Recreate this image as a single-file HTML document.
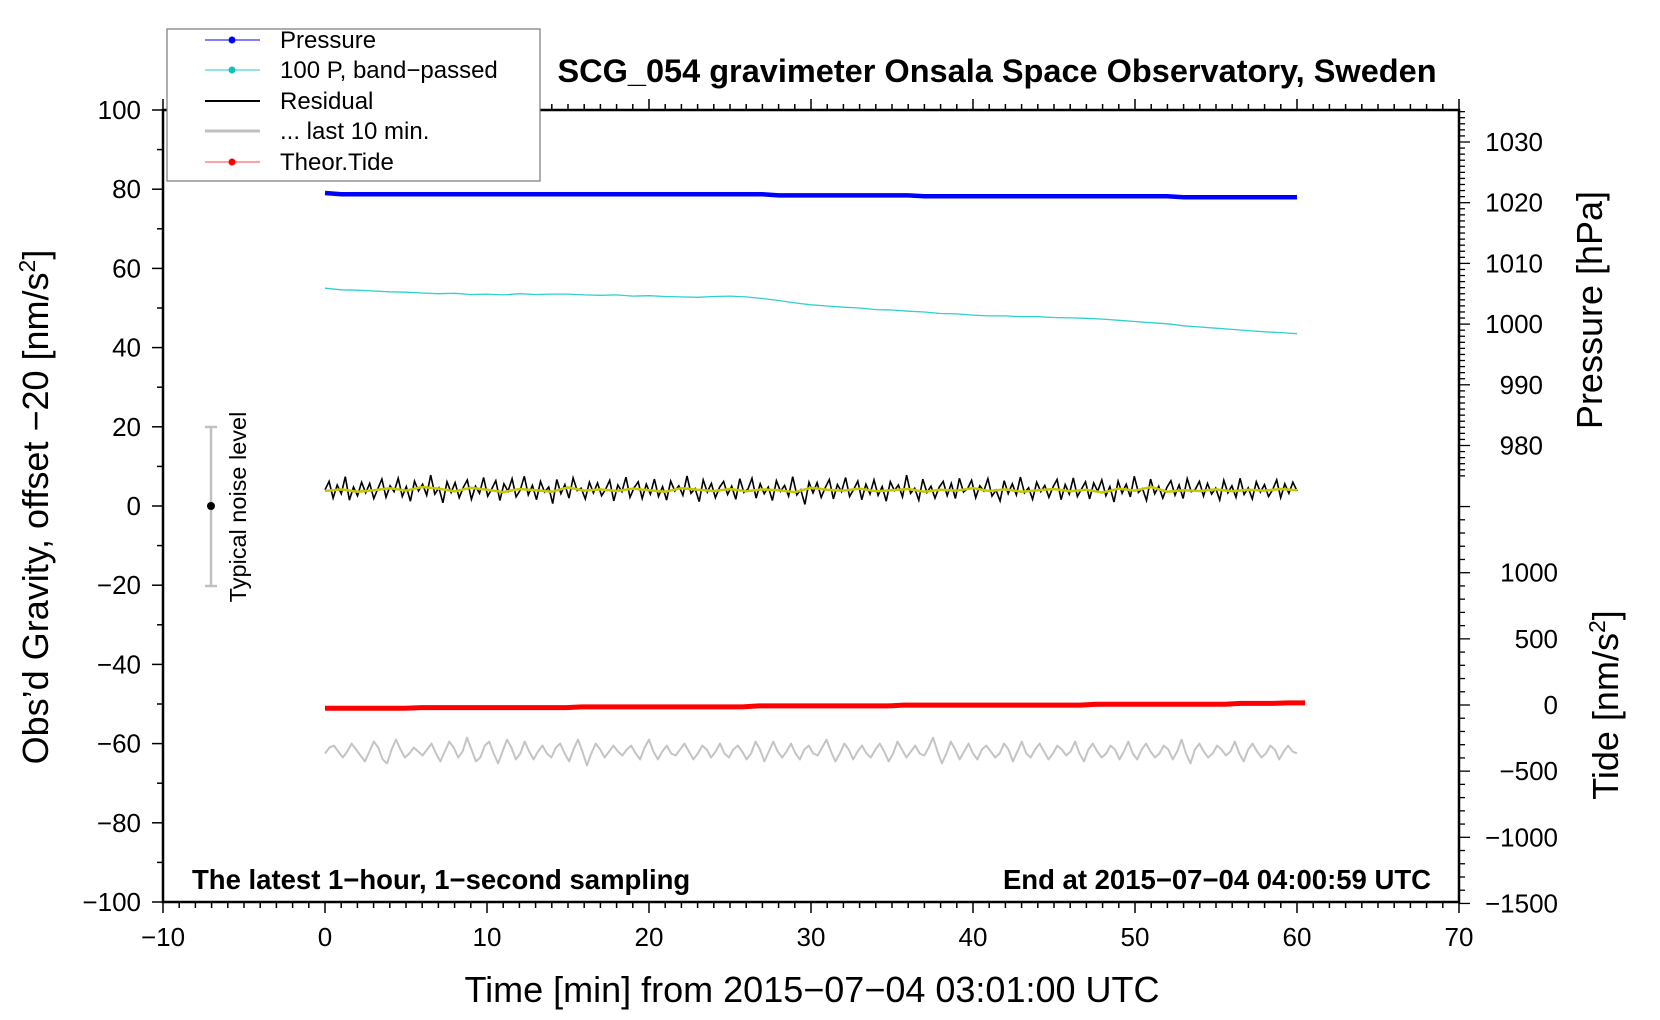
<!DOCTYPE html>
<html><head><meta charset="utf-8">
<style>
html,body{margin:0;padding:0;background:#fff;}
svg{display:block;font-family:"Liberation Sans",sans-serif;}
</style></head>
<body>
<svg id="chart" width="1660" height="1020" viewBox="0 0 1660 1020" xmlns="http://www.w3.org/2000/svg">
  <rect width="1660" height="1020" fill="#fff"/>
  <g id="series"></g>
  <g id="axes"></g>
  <text x="997" y="82" font-size="32.5" font-weight="bold" text-anchor="middle">SCG_054 gravimeter Onsala Space Observatory, Sweden</text>
  <text x="192" y="889" font-size="27.5" font-weight="bold">The latest 1−hour, 1−second sampling</text>
  <text x="1431" y="889" font-size="27.5" font-weight="bold" text-anchor="end">End at 2015−07−04 04:00:59 UTC</text>
  <text x="812" y="1002" font-size="36" text-anchor="middle">Time [min] from 2015−07−04 03:01:00 UTC</text>
  <text transform="translate(48,507) rotate(-90)" font-size="36" text-anchor="middle">Obs’d Gravity, offset −20 [nm/s<tspan dy="-13" font-size="23">2</tspan><tspan dy="13">]</tspan></text>
  <text transform="translate(1602,310) rotate(-90)" font-size="36" text-anchor="middle">Pressure [hPa]</text>
  <text transform="translate(1618,705) rotate(-90)" font-size="36" text-anchor="middle">Tide [nm/s<tspan dy="-13" font-size="23">2</tspan><tspan dy="13">]</tspan></text>
  <g>
    <line x1="211" y1="427" x2="211" y2="586" stroke="#c0c0c0" stroke-width="2.5"/>
    <line x1="205" y1="427" x2="217" y2="427" stroke="#c0c0c0" stroke-width="2.5"/>
    <line x1="205" y1="586" x2="217" y2="586" stroke="#c0c0c0" stroke-width="2.5"/>
    <circle cx="211" cy="506" r="4" fill="#000"/>
    <text transform="translate(246,507) rotate(-90)" font-size="23.5" text-anchor="middle">Typical noise level</text>
  </g>
  <g>
    <rect x="167" y="29" width="373" height="152" fill="#fff" stroke="#777" stroke-width="1.2"/>
    <g><line x1="205" y1="40" x2="260" y2="40" stroke="#00f" stroke-width="1"/><circle cx="232" cy="40" r="3.5" fill="#00f"/><text x="280" y="48" font-size="24">Pressure</text></g>
    <g><line x1="205" y1="70" x2="260" y2="70" stroke="#20c8c8" stroke-width="1"/><circle cx="232" cy="70" r="3.5" fill="#10c0c0"/><text x="280" y="78" font-size="24">100 P, band−passed</text></g>
    <g><line x1="205" y1="101" x2="260" y2="101" stroke="#000" stroke-width="2"/><text x="280" y="109" font-size="24">Residual</text></g>
    <g><line x1="205" y1="131" x2="260" y2="131" stroke="#c0c0c0" stroke-width="3"/><text x="280" y="139" font-size="24">... last 10 min.</text></g>
    <g><line x1="205" y1="162" x2="260" y2="162" stroke="#f44" stroke-width="1"/><circle cx="232" cy="162" r="3.5" fill="#f00"/><text x="280" y="170" font-size="24">Theor.Tide</text></g>
  </g>
</svg>
<script>
const pressure = [1021.6,1021.4,1021.4,1021.4,1021.4,1021.4,1021.4,1021.4,1021.4,1021.4,1021.4,1021.4,1021.4,1021.4,1021.4,1021.4,1021.4,1021.4,1021.4,1021.4,1021.4,1021.4,1021.4,1021.4,1021.4,1021.4,1021.4,1021.4,1021.2,1021.2,1021.2,1021.2,1021.2,1021.2,1021.2,1021.2,1021.2,1021.05,1021.05,1021.05,1021.05,1021.05,1021.05,1021.05,1021.05,1021.05,1021.05,1021.05,1021.05,1021.05,1021.05,1021.05,1021.05,1020.9,1020.9,1020.9,1020.9,1020.9,1020.9,1020.9,1020.9];
const bandPassed = [55.0,54.6,54.5,54.3,54.1,54.0,53.8,53.6,53.7,53.4,53.5,53.3,53.6,53.4,53.5,53.5,53.3,53.2,53.3,53.0,53.1,52.9,52.8,52.7,52.9,53.0,52.8,52.4,51.9,51.3,50.8,50.5,50.2,50.0,49.6,49.5,49.2,49.0,48.6,48.5,48.2,48.0,48.0,47.8,47.8,47.6,47.5,47.4,47.2,46.9,46.6,46.3,46.0,45.5,45.2,44.9,44.6,44.3,44.0,43.8,43.5];
const residual = [4.1,6.2,2.0,5.3,3.1,7.4,1.5,4.8,2.6,6.0,3.3,5.7,1.9,4.4,6.8,2.2,5.1,3.6,7.0,2.4,
4.9,1.2,6.3,3.8,5.5,2.7,7.8,3.0,4.6,0.8,6.1,3.4,5.9,2.1,4.7,6.6,1.7,5.0,3.2,7.2,
2.5,4.3,6.4,1.4,5.6,3.7,6.9,2.3,4.0,7.5,2.8,5.2,1.6,6.2,3.5,4.8,0.6,6.7,3.1,5.4,
2.0,7.1,3.9,4.5,1.8,6.0,3.3,5.8,2.6,4.2,6.5,1.3,5.3,3.6,7.3,2.2,4.6,6.1,1.9,5.5,
3.0,6.8,2.4,4.9,1.5,6.3,3.8,5.1,2.7,7.6,3.2,4.4,1.1,6.6,3.5,5.7,2.1,4.7,6.2,2.9,
5.0,1.7,6.9,3.4,4.3,7.0,2.0,5.6,3.1,4.8,1.4,6.4,3.7,5.2,2.5,7.4,2.8,4.1,0.4,6.0,
3.3,5.9,2.2,4.6,6.7,1.8,5.4,3.6,7.2,2.4,4.2,6.3,1.6,5.5,3.0,6.6,2.7,4.9,1.2,6.1,
3.9,5.3,2.3,7.8,3.2,4.5,1.5,6.8,3.4,5.0,2.0,4.7,6.2,2.6,5.7,1.9,7.0,3.5,4.4,6.5,
2.1,5.1,3.8,6.9,2.5,4.0,1.3,6.4,3.1,5.6,2.8,7.3,3.3,4.6,1.7,6.0,3.6,5.2,2.2,4.8,
6.7,1.6,5.4,3.0,7.1,2.4,4.3,6.1,1.8,5.8,3.7,6.6,2.6,4.9,1.0,6.3,3.2,5.5,2.3,7.5,
3.4,4.4,1.4,6.8,3.1,5.0,2.0,4.7,6.4,2.7,5.3,1.9,6.9,3.6,4.2,6.2,2.5,5.7,3.0,4.5,
1.5,6.5,3.3,5.1,2.2,7.0,2.9,4.6,1.8,6.1,3.5,5.4,2.4,4.1,6.6,2.1,5.6,3.2,6.0,3.8];
const residualSmooth = [3.8,4.2,3.6,4.0,4.5,3.9,4.8,4.4,3.7,4.6,4.1,3.5,4.3,4.0,3.6,4.7,3.9,4.2,3.8,4.4,4.0,3.6,4.5,4.1,3.8,4.3,3.7,4.2,4.0,3.5,4.6,4.1,3.9,4.4,3.7,4.0,4.3,3.6,4.1,3.9,4.5,3.8,4.2,3.6,4.0,4.3,3.7,4.1,3.4,4.4,3.9,4.8,3.6,4.0,3.8,4.2,3.7,4.1,3.9,4.3,4.0];
const last10 = [-62.5,-61.0,-60.5,-62.0,-63.5,-62.0,-60.0,-61.5,-63.0,-64.5,-62.0,-59.5,-61.0,-64.0,-65.0,-61.5,-59.0,-61.5,-63.5,-62.5,
-61.0,-62.0,-63.0,-61.5,-60.0,-62.5,-64.5,-62.0,-59.5,-61.0,-63.5,-62.0,-58.5,-61.5,-64.5,-63.5,-60.5,-59.5,-62.5,-65.0,
-62.0,-59.0,-61.0,-64.0,-62.5,-59.5,-62.0,-64.0,-62.0,-60.5,-62.5,-63.5,-61.0,-60.0,-62.5,-64.5,-61.5,-59.0,-62.0,-65.5,
-62.5,-60.0,-61.5,-63.5,-62.0,-60.5,-62.0,-63.0,-61.5,-60.5,-62.5,-64.0,-61.0,-59.0,-62.0,-64.0,-62.0,-60.5,-62.5,-63.0,
-61.5,-60.0,-62.0,-64.0,-62.5,-60.5,-61.5,-63.5,-62.0,-60.0,-62.5,-63.5,-61.5,-60.5,-62.0,-64.0,-62.5,-59.5,-61.5,-64.5,
-62.0,-59.5,-62.0,-63.5,-62.0,-60.0,-62.5,-64.0,-61.5,-60.5,-62.5,-63.0,-61.0,-59.0,-62.0,-64.5,-62.5,-60.0,-61.5,-64.0,
-62.0,-60.5,-62.5,-63.5,-61.5,-60.0,-62.0,-64.5,-62.5,-59.5,-61.5,-63.5,-62.0,-60.5,-62.5,-63.0,-61.0,-58.5,-62.0,-65.0,
-62.5,-59.5,-61.5,-64.0,-62.0,-60.0,-62.5,-64.0,-61.5,-60.5,-62.0,-63.5,-62.5,-60.0,-61.5,-64.5,-62.0,-59.5,-62.5,-63.5,
-61.5,-60.0,-62.0,-64.0,-62.5,-60.5,-61.5,-63.0,-62.0,-59.5,-62.5,-64.5,-61.5,-60.0,-62.0,-63.5,-62.5,-60.5,-61.5,-64.0,
-62.0,-59.5,-62.5,-64.0,-61.5,-60.0,-62.0,-63.5,-62.5,-60.5,-61.5,-64.0,-62.0,-59.0,-62.5,-65.0,-61.5,-60.0,-62.0,-63.5,
-62.5,-60.5,-61.5,-63.0,-62.0,-59.5,-62.5,-64.5,-61.5,-60.0,-62.0,-63.5,-62.5,-60.5,-61.5,-64.0,-62.0,-60.5,-62.0,-62.5];
const tide = [-25,-25,-25,-25,-25,-25,-20,-20,-20,-20,-20,-20,-20,-20,-20,-20,-14,-14,-14,-14,-14,-14,-14,-14,-14,-14,-14,-7,-7,-7,-7,-7,-7,-7,-7,-7,-1,-1,-1,-1,-1,-1,-1,-1,-1,-1,-1,-1,6,6,6,6,6,6,6,6,6,12,12,12,16,16];

const xTicks = [-10,0,10,20,30,40,50,60,70];
const yTicks = [-100,-80,-60,-40,-20,0,20,40,60,80,100];
const pTicks = [980,990,1000,1010,1020,1030];
const tTicks = [-1500,-1000,-500,0,500,1000];

const L=163,R=1459,T=110,B=902;
function xs(t){return L+(t+10)*(R-L)/80;}
function ys(v){return T+(100-v)*(B-T)/200;}
function yp(p){return 142+(1030-p)*6.07;}
function yt(v){return 705-v*0.1323;}
const NS='http://www.w3.org/2000/svg';
const ser=document.getElementById('series'), ax=document.getElementById('axes');
function mk(tag,attrs,parent){const e=document.createElementNS(NS,tag);for(const k in attrs)e.setAttribute(k,attrs[k]);parent.appendChild(e);return e;}
function pts(arr,t0,t1,yf){const n=arr.length;return arr.map((v,i)=>xs(t0+i*(t1-t0)/(n-1)).toFixed(1)+','+yf(v).toFixed(1)).join(' ');}

let e;
e=mk('polyline',{points:pts(last10,0,60,ys),fill:'none',stroke:'#c4c4c4','stroke-width':2,'stroke-linejoin':'round'},ser);


e=mk('polyline',{points:pts(tide,0,60.5,yt),fill:'none',stroke:'#f00','stroke-width':5},ser);


e=mk('polyline',{points:pts(residual,0,60,ys),fill:'none',stroke:'#000','stroke-width':1.6},ser);


e=mk('polyline',{points:pts(residualSmooth,0,60,ys),fill:'none',stroke:'#c8c800','stroke-width':2.5},ser);


e=mk('polyline',{points:pts(bandPassed,0,60,ys),fill:'none',stroke:'#30d0d0','stroke-width':1.3},ser);


e=mk('polyline',{points:pts(pressure,0,60,yp),fill:'none',stroke:'#00f','stroke-width':4.5},ser);



e=mk('rect',{x:L,y:T,width:R-L,height:B-T,fill:'none',stroke:'#000','stroke-width':2.5},ax);


for(let t=-10;t<=70;t++){
  const maj=t%10===0, x=xs(t);
  mk('line',{x1:x,y1:B,x2:x,y2:B+(maj?11:6),stroke:'#000','stroke-width':1.5},ax);
  mk('line',{x1:x,y1:T,x2:x,y2:T-(maj?11:6),stroke:'#000','stroke-width':1.5},ax);
}
xTicks.forEach(t=>{
  const tx=mk('text',{x:xs(t),y:946,'font-size':26,'text-anchor':'middle'},ax);
  tx.textContent=String(t).replace('-','−');
  
  
});
for(let v=-100;v<=100;v+=10){
  const maj=v%20===0;
  mk('line',{x1:L,y1:ys(v),x2:L-(maj?11:6),y2:ys(v),stroke:'#000','stroke-width':1.5},ax);
}
yTicks.forEach(v=>{
  const tx=mk('text',{x:141,y:ys(v)+9,'font-size':26,'text-anchor':'end'},ax);
  tx.textContent=String(v).replace('-','−');
  
  
});
for(let p=975;p<=1035;p++){
  const maj=p%10===0;
  mk('line',{x1:R,y1:yp(p),x2:R+(maj?11:6),y2:yp(p),stroke:'#000','stroke-width':1.3},ax);
}
pTicks.forEach(p=>{
  const tx=mk('text',{x:1543,y:yp(p)+9,'font-size':26,'text-anchor':'end'},ax);
  tx.textContent=String(p);
  
  
});
for(let v=-1500;v<=1500;v+=100){
  const maj=v%500===0;
  mk('line',{x1:R,y1:yt(v),x2:R+(maj?11:6),y2:yt(v),stroke:'#000','stroke-width':1.3},ax);
}
tTicks.forEach(v=>{
  const tx=mk('text',{x:1558,y:yt(v)+9,'font-size':26,'text-anchor':'end'},ax);
  tx.textContent=String(v).replace('-','−');
  
  
});
</script>
</body></html>
